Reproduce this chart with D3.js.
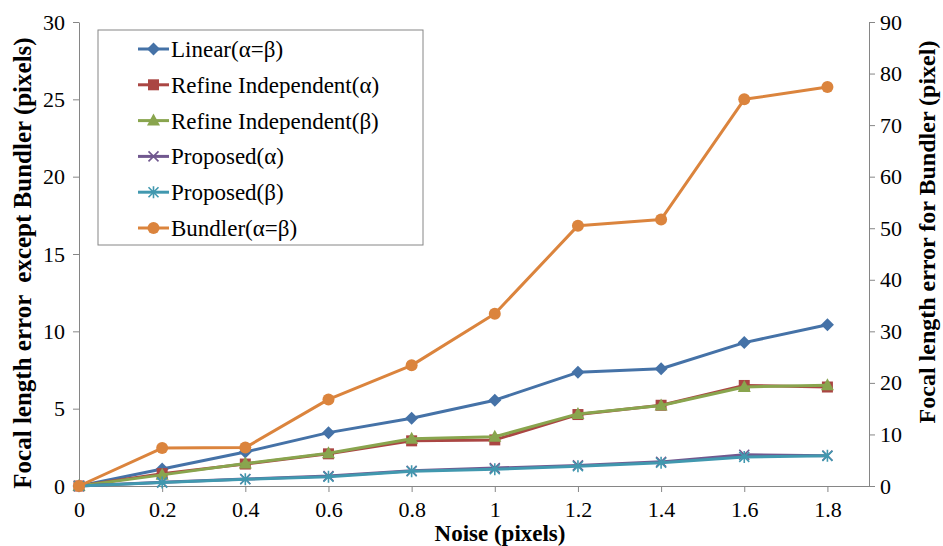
<!DOCTYPE html>
<html>
<head>
<meta charset="utf-8">
<style>
body { margin: 0; background: #fff; }
svg { font-family: "Liberation Serif", "Times New Roman", serif; }
.axis path, .axis line { stroke: #868686; stroke-width: 1; }
.axis text { font-family: "Liberation Serif", "Times New Roman", serif; font-size: 22px; fill: #000; }
.title { font-weight: bold; }
.legend text { font-size: 23px; }
</style>
</head>
<body>
<svg id="chart" width="943" height="546"></svg>
<script src="https://cdn.jsdelivr.net/npm/d3@7/dist/d3.min.js"></script>
<script>
// data
var noise = [0, 0.2, 0.4, 0.6, 0.8, 1.0, 1.2, 1.4, 1.6, 1.8];
var linear = [0, 1.1, 2.2, 3.45, 4.38, 5.55, 7.35, 7.58, 9.27, 10.42];
var refineAlpha = [0, 0.8, 1.42, 2.08, 2.92, 2.98, 4.62, 5.22, 6.5, 6.4];
var refineBeta = [0, 0.72, 1.45, 2.12, 3.05, 3.18, 4.66, 5.2, 6.4, 6.52];
var proposedAlpha = [0, 0.24, 0.45, 0.64, 0.98, 1.16, 1.33, 1.56, 2.02, 1.96];
var proposedBeta = [0, 0.22, 0.44, 0.6, 0.95, 1.08, 1.28, 1.5, 1.88, 1.95];
var bundler = [0, 7.35, 7.45, 16.8, 23.4, 33.4, 50.5, 51.7, 75.0, 77.4];

var seriesNames = ["Linear(α=β)", "Refine Independent(α)", "Refine Independent(β)",
  "Proposed(α)", "Proposed(β)", "Bundler(α=β)"];
var seriesValues = [linear, refineAlpha, refineBeta, proposedAlpha, proposedBeta, bundler];
var seriesColors = ["#4572A7", "#AA4643", "#89A54E", "#71588F", "#4198AF", "#DB843D"];
var seriesMarkers = ["diamond", "square", "triangle", "x", "star", "circle"];
var seriesAxis = ["left", "left", "left", "left", "left", "right"];

var leftTicks = [0, 5, 10, 15, 20, 25, 30];
var rightTicks = [0, 10, 20, 30, 40, 50, 60, 70, 80, 90];

var svg = d3.select("#chart");
var plotLeft = 79, plotRight = 869, plotTop = 22, plotBottom = 486;

var x = d3.scaleLinear().domain([0, 1.9]).range([plotLeft, plotRight]);
var yL = d3.scaleLinear().domain([0, 30]).range([plotBottom, plotTop]);
var yR = d3.scaleLinear().domain([0, 90]).range([plotBottom, plotTop]);

// axes
svg.append("g").attr("class", "axis")
  .attr("transform", "translate(0," + plotBottom + ")")
  .call(d3.axisBottom(x).tickValues(noise).tickSize(6).tickSizeOuter(0)
    .tickFormat(function(d) { return String(+d.toFixed(1)); }))
  .call(function(g) { g.selectAll("text").attr("y", 15).attr("dy", "0.71em"); });

svg.append("g").attr("class", "axis")
  .attr("transform", "translate(" + plotLeft + ",0)")
  .call(d3.axisLeft(yL).tickValues(leftTicks).tickSize(6).tickSizeOuter(0))
  .call(function(g) { g.selectAll("text").attr("x", -14); });

svg.append("g").attr("class", "axis")
  .attr("transform", "translate(" + plotRight + ",0)")
  .call(d3.axisRight(yR).tickValues(rightTicks).tickSize(6).tickSizeOuter(0))
  .call(function(g) { g.selectAll("text").attr("x", 11); });

// axis titles
svg.append("text").attr("class", "title")
  .attr("transform", "translate(31,263) rotate(-90)")
  .attr("text-anchor", "middle")
  .style("font-size", "25px")
  .attr("xml:space", "preserve")
  .text("Focal length error  except Bundler (pixels)");

svg.append("text").attr("class", "title")
  .attr("transform", "translate(935,232) rotate(-90)")
  .attr("text-anchor", "middle")
  .style("font-size", "24px")
  .text("Focal length error for Bundler (pixel)");

svg.append("text").attr("class", "title")
  .attr("x", 500).attr("y", 541)
  .attr("text-anchor", "middle")
  .style("font-size", "23px")
  .text("Noise (pixels)");

function drawMarker(g, type, color) {
  if (type === "diamond") {
    g.append("path").attr("d", "M0,-6.5L6.5,0L0,6.5L-6.5,0Z").attr("fill", color);
  } else if (type === "square") {
    g.append("rect").attr("x", -5.5).attr("y", -5.5).attr("width", 11).attr("height", 11)
      .attr("fill", color).attr("stroke", "none");
  } else if (type === "triangle") {
    g.append("path").attr("d", "M0,-7L6.5,5L-6.5,5Z").attr("fill", color);
  } else if (type === "x") {
    g.append("path").attr("d", "M-5,-5L5,5M-5,5L5,-5").attr("stroke", color)
      .attr("stroke-width", 1.6).attr("fill", "none");
  } else if (type === "star") {
    g.append("path").attr("d", "M-5,-5L5,5M-5,5L5,-5M0,-6L0,6").attr("stroke", color)
      .attr("stroke-width", 1.6).attr("fill", "none");
  } else {
    g.append("circle").attr("r", 6).attr("fill", color);
  }
}

// series
seriesValues.forEach(function(vals, i) {
  var y = seriesAxis[i] === "left" ? yL : yR;
  var line = d3.line()
    .x(function(d, j) { return x(noise[j]); })
    .y(function(d) { return y(d); });
  svg.append("path")
    .datum(vals)
    .attr("d", line)
    .attr("fill", "none")
    .attr("stroke", seriesColors[i])
    .attr("stroke-width", 3)
    .attr("stroke-linejoin", "round");
  vals.forEach(function(v, j) {
    var g = svg.append("g").attr("transform", "translate(" + x(noise[j]) + "," + y(v) + ")");
    drawMarker(g, seriesMarkers[i], seriesColors[i]);
  });
});

// legend
var legend = svg.append("g").attr("class", "legend");
legend.append("rect")
  .attr("x", 98).attr("y", 30).attr("width", 325).attr("height", 215)
  .attr("fill", "#fff").attr("stroke", "#868686").attr("stroke-width", 1);

seriesNames.forEach(function(name, i) {
  var cy = 49 + i * 35.8;
  legend.append("line")
    .attr("x1", 138).attr("x2", 169).attr("y1", cy).attr("y2", cy)
    .attr("stroke", seriesColors[i]).attr("stroke-width", 3);
  var g = legend.append("g").attr("transform", "translate(153.5," + cy + ")");
  drawMarker(g, seriesMarkers[i], seriesColors[i]);
  legend.append("text")
    .attr("x", 171).attr("y", cy + 8)
    .text(name);
});
</script>
</body>
</html>
